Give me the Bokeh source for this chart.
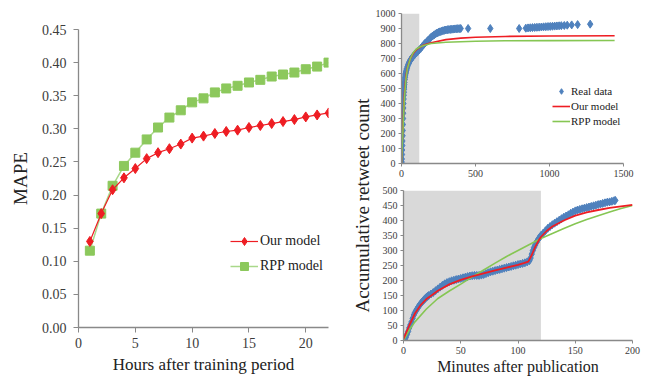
from math import pi
from bokeh.plotting import figure
from bokeh.models import Range1d, Label, Legend, LegendItem, FixedTicker, NumeralTickFormatter
from bokeh.layouts import row, column
from bokeh.embed import file_html
from bokeh.resources import INLINE

# ---------------- data ----------------
hours = list(range(1, 23))
mape_our = [0.130, 0.172, 0.208, 0.226, 0.240, 0.255, 0.264, 0.270, 0.277, 0.286, 0.289,
            0.293, 0.296, 0.298, 0.302, 0.305, 0.308, 0.311, 0.314, 0.318, 0.321, 0.324]
mape_rpp = [0.116, 0.172, 0.214, 0.244, 0.264, 0.284, 0.302, 0.317, 0.328, 0.340, 0.346,
            0.355, 0.361, 0.365, 0.370, 0.374, 0.379, 0.382, 0.385, 0.390, 0.394, 0.400]
hour_ticks = [0, 5, 10, 15, 20]
mape_ticks = [0.0, 0.05, 0.10, 0.15, 0.20, 0.25, 0.30, 0.35, 0.40, 0.45]

training_start = 0
training_end = 120

# top-right tweet (long horizon)
top_real_t = [0, 1, 2, 3, 4, 5, 6, 7, 8, 9, 10, 11, 12, 13, 14, 15, 16, 17, 18, 19, 20,
              22, 24, 26, 28, 30, 33, 36, 40, 45, 50, 55, 60, 65, 70, 75, 80, 90, 100,
              110, 120, 130, 140, 150, 160, 170, 180, 190, 200, 210, 220, 230, 240, 250,
              260, 270, 280, 290, 300, 310, 320, 330, 340, 350, 360, 370, 380, 390, 400,
              450, 600, 795, 840, 855, 870, 885, 900, 915, 930, 945, 960, 975, 990, 1005,
              1020, 1035, 1050, 1065, 1080, 1100, 1120, 1150, 1190, 1275]
top_real_v = [0, 10, 30, 60, 90, 120, 150, 185, 220, 260, 300, 335, 370, 400, 430, 455, 475,
              495, 510, 525, 540, 560, 575, 590, 600, 610, 622, 632, 645, 660, 670, 680, 690,
              697, 703, 710, 716, 727, 737, 747, 757, 768, 780, 792, 803, 812, 822, 832, 842,
              850, 857, 864, 870, 875, 878, 882, 885, 888, 890, 892, 893, 894, 895, 896, 897,
              898, 899, 899, 900, 900, 900, 900, 902, 904, 905, 906, 907, 908, 909, 910, 911,
              912, 913, 914, 915, 916, 917, 918, 919, 920, 922, 924, 926, 929]
top_curve_t = [0, 5, 10, 15, 20, 30, 40, 60, 80, 100, 120, 150, 200, 300, 400, 500, 700,
               1000, 1440]
top_our_v = [0, 140, 260, 375, 470, 580, 640, 700, 735, 758, 772, 790, 805, 826, 836, 842,
             847, 850, 852]
top_rpp_v = [0, 120, 230, 345, 440, 565, 635, 700, 740, 763, 775, 787, 800, 808, 812, 815,
             818, 819, 820]
top_x_ticks = [0, 500, 1000, 1500]
top_y_ticks = [0, 100, 200, 300, 400, 500, 600, 700, 800, 900, 1000]

# bottom-right tweet (first 200 minutes)
bot_real_t = [0, 1, 2, 3, 4, 5, 6, 7, 8, 9, 10, 11, 12, 13, 14, 15, 16, 17, 18, 19, 20, 21,
              22, 24, 26, 28, 30, 32, 34, 36, 38, 40, 42, 44, 46, 48, 50, 52, 54, 56, 58,
              60, 62, 64, 66, 68, 70, 72, 74, 76, 78, 80, 82, 84, 86, 88, 90, 92, 94, 96,
              98, 100, 102, 104, 106, 108, 110, 111, 112, 113, 114, 115, 116, 117, 118, 119,
              120, 122, 124, 126, 128, 130, 132, 134, 136, 138, 140, 142, 144, 146, 148, 150,
              152, 154, 156, 158, 160, 162, 164, 166, 168, 170, 172, 174, 176, 178, 180, 182,
              184, 185]
bot_real_v = [0, 3, 10, 20, 30, 42, 52, 62, 74, 85, 93, 100, 106, 112, 118, 123, 128, 132,
              136, 140, 144, 147, 150, 155, 160, 166, 172, 178, 184, 189, 193, 196, 199, 201,
              203, 205, 207, 209, 211, 213, 215, 216, 217, 217, 217, 218, 220, 223, 226, 229,
              231, 233, 235, 237, 239, 241, 243, 245, 247, 249, 251, 253, 255, 257, 259, 262,
              266, 275, 288, 300, 310, 318, 326, 333, 339, 345, 350, 358, 366, 374, 380, 386,
              391, 396, 401, 406, 411, 415, 419, 424, 428, 432, 435, 437, 439, 441, 443, 445,
              447, 449, 451, 453, 455, 457, 459, 461, 462, 464, 466, 467]
bot_our_t = [0, 5, 10, 15, 20, 25, 30, 40, 50, 60, 70, 80, 90, 100, 105, 109, 112, 115, 118,
             120, 125, 130, 140, 150, 160, 170, 180, 190, 200]
bot_our_v = [5, 50, 90, 118, 138, 152, 166, 187, 202, 214, 224, 234, 243, 252, 258, 263, 285,
             312, 333, 345, 365, 380, 400, 416, 427, 435, 442, 447, 452]
bot_rpp_t = [0, 5, 10, 20, 30, 40, 50, 60, 70, 80, 90, 100, 110, 120, 130, 140, 150, 160,
             170, 180, 190, 200]
bot_rpp_v = [0, 35, 62, 105, 140, 165, 188, 212, 235, 258, 280, 300, 320, 340, 357, 373, 389,
             403, 416, 428, 440, 450]
bot_x_ticks = [0, 50, 100, 150, 200]
bot_y_ticks = [0, 50, 100, 150, 200, 250, 300, 350, 400, 450, 500]

# ---------------- styles ----------------
FONT = "Liberation Serif"
AXIS_C = "#898989"
TICK_C = "#3c3c3c"
TITLE_C = "#222222"
RED = "#EE1D23"
GREEN_M = "#8CC85C"
GREEN_L = "#A9D88A"
GREEN = "#86C653"
BLUE = "#4F81BD"
SHADE = "#D9D9D9"


def style(p, tick_size, title_size, tick_out=4, label_standoff=4):
    p.grid.visible = False
    p.outline_line_color = None
    p.background_fill_color = "white"
    for ax in p.axis:
        ax.axis_line_color = AXIS_C
        ax.axis_line_width = 1.3
        ax.major_tick_line_color = AXIS_C
        ax.major_tick_out = tick_out
        ax.major_tick_in = 0
        ax.minor_tick_line_color = None
        ax.major_label_text_font = FONT
        ax.major_label_text_font_size = tick_size
        ax.major_label_text_color = TICK_C
        ax.major_label_standoff = label_standoff
        ax.axis_label_text_font = FONT
        ax.axis_label_text_font_size = title_size
        ax.axis_label_text_font_style = "normal"
        ax.axis_label_text_color = TITLE_C


H = 377
H_TOP = 182

# ---------------- left: MAPE ----------------
left = figure(width=340, height=H, output_backend="svg", toolbar_location=None,
              x_range=Range1d(0, 22), y_range=Range1d(0, 0.45), frame_align=False,
              min_border_left=78, min_border_right=12, min_border_top=29, min_border_bottom=50)
style(left, "14px", "17px", tick_out=5, label_standoff=5)
left.xaxis.ticker = FixedTicker(ticks=hour_ticks)
left.yaxis.ticker = FixedTicker(ticks=mape_ticks)
left.yaxis.formatter = NumeralTickFormatter(format="0.00")
left.yaxis.major_label_standoff = 7
left.xaxis.axis_label = "Hours after training period"
left.yaxis.axis_label = "MAPE"
left.yaxis.axis_label_text_font_size = "19px"
left.xaxis.axis_label_standoff = 4
left.yaxis.axis_label_standoff = 8

l_rpp = left.line(hours, mape_rpp, line_color=GREEN_L, line_width=1.5)
s_rpp = left.scatter(hours, mape_rpp, marker="square", size=9, fill_color=GREEN_M,
                     line_color=GREEN_M)
l_our = left.line(hours, mape_our, line_color=RED, line_width=1.2)
s_our = left.scatter(hours, mape_our, marker="diamond", size=10, fill_color=RED,
                     line_color=RED)
leg = Legend(items=[LegendItem(label="Our model", renderers=[l_our, s_our]),
                    LegendItem(label="RPP model", renderers=[l_rpp, s_rpp])],
             location=(152, 51), border_line_color=None, background_fill_alpha=0,
             label_text_font=FONT, label_text_font_size="14px", label_text_color=TITLE_C,
             glyph_width=28, glyph_height=20, label_height=20, spacing=5,
             padding=0, margin=0, label_standoff=2)
left.add_layout(leg)

# ---------------- strip with shared y label ----------------
strip = figure(width=32, height=H, output_backend="svg", toolbar_location=None,
               x_range=Range1d(0, 1), y_range=Range1d(0, 1), min_border=0, frame_align=False)
strip.axis.visible = False
strip.grid.visible = False
strip.outline_line_color = None
strip.add_layout(Label(x=22, y=172, x_units="screen", y_units="screen",
                       text="Accumulative retweet count", angle=pi / 2,
                       text_align="center", text_baseline="middle",
                       text_font=FONT, text_font_size="19px", text_color=TITLE_C))

# ---------------- top right ----------------
top = figure(width=279, height=H_TOP, output_backend="svg", toolbar_location=None,
             x_range=Range1d(0, 1500), y_range=Range1d(0, 1000), frame_align=False,
             min_border_left=29, min_border_right=28, min_border_top=13, min_border_bottom=19)
style(top, "10px", "15px", tick_out=3, label_standoff=3)
top.xaxis.ticker = FixedTicker(ticks=top_x_ticks)
top.yaxis.ticker = FixedTicker(ticks=top_y_ticks)
top.quad(left=[training_start], right=[training_end], bottom=[0], top=[1000],
         fill_color=SHADE, line_color=None)
r_real = top.scatter(top_real_t, top_real_v, marker="diamond", size=8,
                     fill_color=BLUE, line_color=BLUE)
r_our = top.line(top_curve_t, top_our_v, line_color=RED, line_width=1.6)
r_rpp = top.line(top_curve_t, top_rpp_v, line_color=GREEN, line_width=1.6)
leg2 = Legend(items=[LegendItem(label="Real data", renderers=[r_real]),
                     LegendItem(label="Our model", renderers=[r_our]),
                     LegendItem(label="RPP model", renderers=[r_rpp])],
              location=(151, 35), border_line_color=None, background_fill_alpha=0,
              label_text_font=FONT, label_text_font_size="11px", label_text_color=TITLE_C,
              glyph_width=18, glyph_height=14, label_height=14, spacing=1,
              padding=0, margin=0, label_standoff=1)
top.add_layout(leg2)

# ---------------- bottom right ----------------
bot = figure(width=279, height=H - H_TOP, output_backend="svg", toolbar_location=None,
             x_range=Range1d(0, 200), y_range=Range1d(0, 500), frame_align=False,
             min_border_left=31, min_border_right=19, min_border_top=8, min_border_bottom=37)
style(bot, "10px", "16px", tick_out=3, label_standoff=3)
bot.xaxis.ticker = FixedTicker(ticks=bot_x_ticks)
bot.yaxis.ticker = FixedTicker(ticks=bot_y_ticks)
bot.xaxis.axis_label = "Minutes after publication"
bot.xaxis.axis_label_standoff = 1
bot.quad(left=[training_start], right=[training_end], bottom=[0], top=[500],
         fill_color=SHADE, line_color=None)
bot.scatter(bot_real_t, bot_real_v, marker="diamond", size=8, fill_color=BLUE, line_color=BLUE)
bot.line(bot_rpp_t, bot_rpp_v, line_color=GREEN, line_width=1.6)
bot.line(bot_our_t, bot_our_v, line_color=RED, line_width=1.8)

layout = row(left, strip, column(top, bot))
open("out.html", "w").write(file_html(layout, INLINE))
